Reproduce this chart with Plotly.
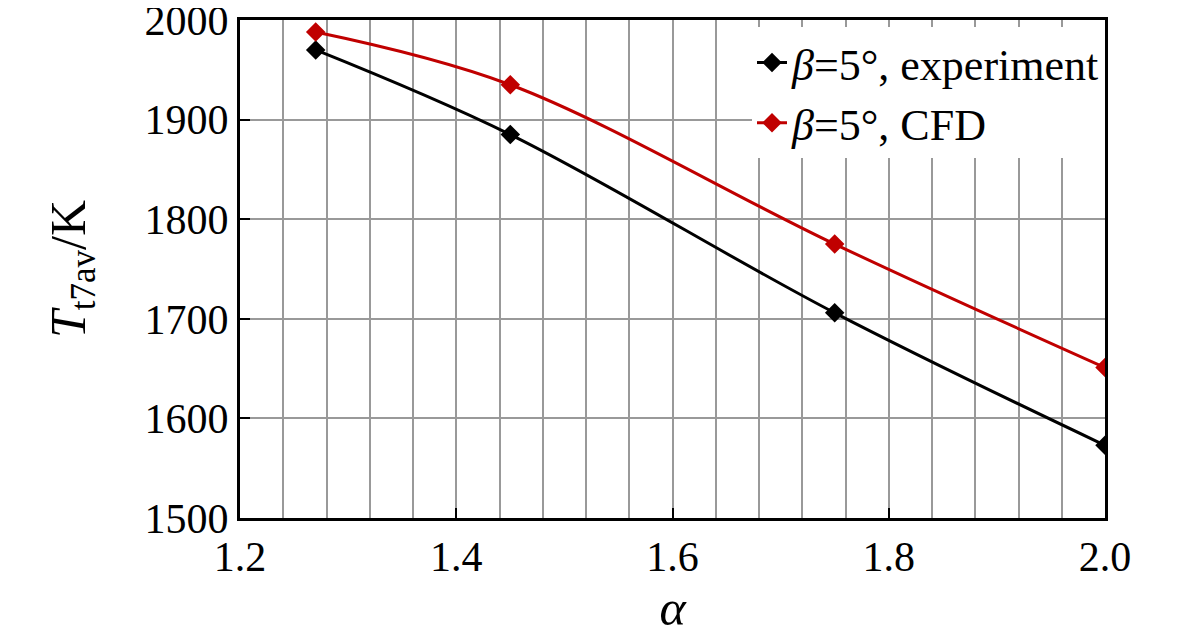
import plotly.graph_objects as go

alpha = [1.27, 1.45, 1.75, 2.0]
t_exp = [1970, 1885, 1706, 1573]
t_cfd = [1988, 1935, 1775, 1651]

font = "Liberation Serif, Times New Roman, serif"

fig = go.Figure()
fig.add_trace(go.Scatter(
    x=alpha, y=t_exp, mode="lines+markers", line_shape="spline",
    name="<i>β</i>=5°, experiment",
    line=dict(color="black", width=3),
    marker=dict(symbol="diamond", size=15, color="black"),
))
fig.add_trace(go.Scatter(
    x=alpha, y=t_cfd, mode="lines+markers", line_shape="spline",
    name="<i>β</i>=5°, CFD",
    line=dict(color="#c00000", width=3),
    marker=dict(symbol="diamond", size=15, color="#c00000"),
))

# page body adds an 8px offset, so margins are shifted to compensate
fig.update_layout(
    width=1181, height=640,
    margin=dict(l=232, r=84, t=12, b=130),
    paper_bgcolor="white", plot_bgcolor="white",
    font=dict(family=font, size=42, color="black"),
    legend=dict(x=1.0, y=0.985, xanchor="right", yanchor="top",
                bgcolor="white", borderwidth=0, itemwidth=30,
                tracegroupgap=0, font=dict(size=44)),
)
fig.update_xaxes(
    range=[1.2, 2.0], dtick=0.2, tickformat=".1f", automargin=False,
    ticklabeloverflow="allow",
    showgrid=True, gridcolor="#999999", gridwidth=1.5,
    minor=dict(dtick=0.04, showgrid=True, gridcolor="#999999", gridwidth=1.5),
    ticks="inside", ticklen=10, tickwidth=2, tickcolor="black",
    showline=True, linecolor="black", linewidth=3, mirror=True,
    zeroline=False,
    title=dict(text="<i>α</i>", standoff=2),
)
fig.update_yaxes(
    range=[1500, 2000], dtick=100, automargin=False,
    ticklabeloverflow="allow",
    showgrid=True, gridcolor="#999999", gridwidth=1.5,
    ticks="inside", ticklen=10, tickwidth=2, tickcolor="black",
    showline=True, linecolor="black", linewidth=3, mirror=True,
    zeroline=False,
    title=dict(text="<i>T</i><sub>t7av</sub>/K", standoff=44),
)

fig.write_html("out.html")
